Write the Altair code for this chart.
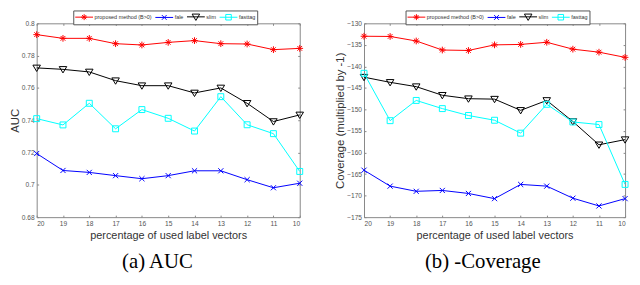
import altair as alt
import pandas as pd

pct = [20, 19, 18, 17, 16, 15, 14, 13, 12, 11, 10]
methods = ["proposed method (B>0)", "fale", "slim", "fasttag"]
colors = ["#ff0000", "#0000ff", "#000000", "#00ffff"]

auc_proposed = [0.7930, 0.7907, 0.7907, 0.7874, 0.7866, 0.7882, 0.7893, 0.7874, 0.7872, 0.7837, 0.7845]
auc_fale = [0.7194, 0.7089, 0.7077, 0.7057, 0.7038, 0.7057, 0.7087, 0.7087, 0.7032, 0.6982, 0.7010]
auc_slim = [0.7724, 0.7715, 0.7699, 0.7645, 0.7614, 0.7614, 0.7569, 0.7600, 0.7505, 0.7392, 0.7433]
auc_fasttag = [0.7410, 0.7371, 0.7505, 0.7347, 0.7466, 0.7412, 0.7333, 0.7546, 0.7372, 0.7317, 0.7083]

cov_proposed = [-133.0, -133.05, -134.1, -136.2, -136.3, -135.0, -134.9, -134.4, -136.0, -136.7, -137.9]
cov_fale = [-164.1, -167.8, -169.0, -168.8, -169.5, -170.7, -167.4, -167.8, -170.6, -172.4, -170.7]
cov_slim = [-142.5, -143.7, -144.7, -146.7, -147.5, -147.6, -150.2, -147.9, -152.8, -158.2, -157.0]
cov_fasttag = [-141.6, -152.6, -147.9, -149.8, -151.4, -152.5, -155.5, -148.8, -152.9, -153.5, -167.4]

auc_ticks = [0.68, 0.70, 0.72, 0.74, 0.76, 0.78, 0.80]
cov_ticks = [-175, -170, -165, -160, -155, -150, -145, -140, -135, -130]

# marker shapes (asterisk, x, triangle-down, square)
marker_paths = [
    "M-0.85,0H0.85M0,-0.85V0.85M-0.6,-0.6L0.6,0.6M-0.6,0.6L0.6,-0.6",
    "M-0.65,-0.65L0.65,0.65M-0.65,0.65L0.65,-0.65",
    "M-0.95,-0.7H0.95L0,0.9Z",
    "M-0.75,-0.75H0.75V0.75H-0.75Z",
]
# legend symbols: line segment with the marker in the middle
legend_paths = [
    "M-1,0H3.5M0.5,0H2M1.25,-0.75V0.75M0.72,-0.53L1.78,0.53M0.72,0.53L1.78,-0.53",
    "M-1,0H3.5M0.65,-0.6L1.85,0.6M0.65,0.6L1.85,-0.6",
    "M-1,0H3.5M0.3,-0.7H2.2L1.25,0.9Z",
    "M-1,0H3.5M0.55,-0.7H1.95V0.7H0.55Z",
]

FONT = "Liberation Sans"


def long_df(series_list):
    rows = []
    for m, vals in zip(methods, series_list):
        for p, v in zip(pct, vals):
            rows.append({"pct": p, "value": v, "method": m})
    return pd.DataFrame(rows)


def panel(df, ydomain, yticks, yfmt, ytitle, caption, width, legx):
    xscale = alt.Scale(domain=[10, 20], reverse=True, nice=False, zero=False)
    yscale = alt.Scale(domain=ydomain, nice=False, zero=False)
    tick_style = dict(offset=-2, tickSize=2, tickColor="#888888", tickWidth=1,
                      domain=False, grid=False)
    xb = alt.Axis(orient="bottom", values=pct, format="d", labelPadding=3,
                  labelFont=FONT, labelFontSize=6.7, labelColor="#555555",
                  title="percentage of used label vectors", titleFont=FONT,
                  titleFontSize=11, titleFontWeight="normal", titleColor="#333333",
                  titlePadding=3, **tick_style)
    yl = alt.Axis(orient="left", values=yticks, format=yfmt, labelPadding=2.5,
                  labelFont=FONT, labelFontSize=6.7, labelColor="#555555",
                  title=ytitle, titleFont=FONT, titleFontSize=11.5,
                  titleFontWeight="normal", titleColor="#333333",
                  titlePadding=1, **tick_style)
    xt = alt.Axis(orient="top", values=pct, labels=False, title=None, **tick_style)
    yr = alt.Axis(orient="right", values=yticks, labels=False, title=None, **tick_style)

    layers = []
    first = True
    for m, c, path in zip(methods, colors, marker_paths):
        base = alt.Chart(df).transform_filter(alt.datum.method == m)
        if first:
            enc = dict(x=alt.X("pct:Q", scale=xscale, axis=xb),
                       y=alt.Y("value:Q", scale=yscale, axis=yl))
            first = False
        else:
            enc = dict(x=alt.X("pct:Q", axis=None), y=alt.Y("value:Q", axis=None))
        layers.append(base.mark_line(strokeWidth=1, color=c).encode(**enc))
        layers.append(
            base.mark_point(shape=path, size=64, filled=False, color=c, strokeWidth=1, opacity=1)
            .encode(x=alt.X("pct:Q", axis=None), y=alt.Y("value:Q", axis=None))
        )
    leg = alt.Legend(
        title=None, orient="none", legendX=legx, legendY=-13, direction="horizontal",
        columns=4, labelFont=FONT, labelFontSize=5.5, labelColor="#333333",
        labelOffset=11, columnPadding=1, padding=1.5, strokeColor="#555555",
        fillColor="white", symbolSize=64, symbolStrokeWidth=1, symbolOpacity=1,
        labelLimit=300, rowPadding=0,
    )
    legend_layer = alt.Chart(df).mark_point(size=0, filled=False, strokeWidth=1).encode(
        x=alt.X("pct:Q", axis=xt),
        y=alt.Y("value:Q", axis=yr),
        color=alt.Color("method:N", scale=alt.Scale(domain=methods, range=colors), legend=leg),
        shape=alt.Shape("method:N", scale=alt.Scale(domain=methods, range=legend_paths), legend=leg),
    )
    layers.append(legend_layer)
    return alt.layer(*layers).properties(
        width=width, height=196,
        title=alt.TitleParams(caption, orient="bottom", anchor="middle", frame="bounds",
                              font="Liberation Serif", fontSize=21, fontWeight="normal",
                              color="black", offset=11),
    ).resolve_axis(x="independent", y="independent")


left = panel(long_df([auc_proposed, auc_fale, auc_slim, auc_fasttag]),
             [0.68, 0.80], auc_ticks, "~g", "AUC", "(a) AUC", 266, 37)
right = panel(long_df([cov_proposed, cov_fale, cov_slim, cov_fasttag]),
              [-175, -130], cov_ticks, "d", "Coverage (multiplied by -1)", "(b) -Coverage", 264, 42)

chart = alt.hconcat(left, right, spacing=27).resolve_scale(
    color="independent", shape="independent"
).resolve_legend(color="independent", shape="independent").configure_view(
    stroke="#888888", strokeWidth=1
).properties(padding=0, background="white")

chart.save("out.html", embed_options={"renderer": "svg", "actions": False})
